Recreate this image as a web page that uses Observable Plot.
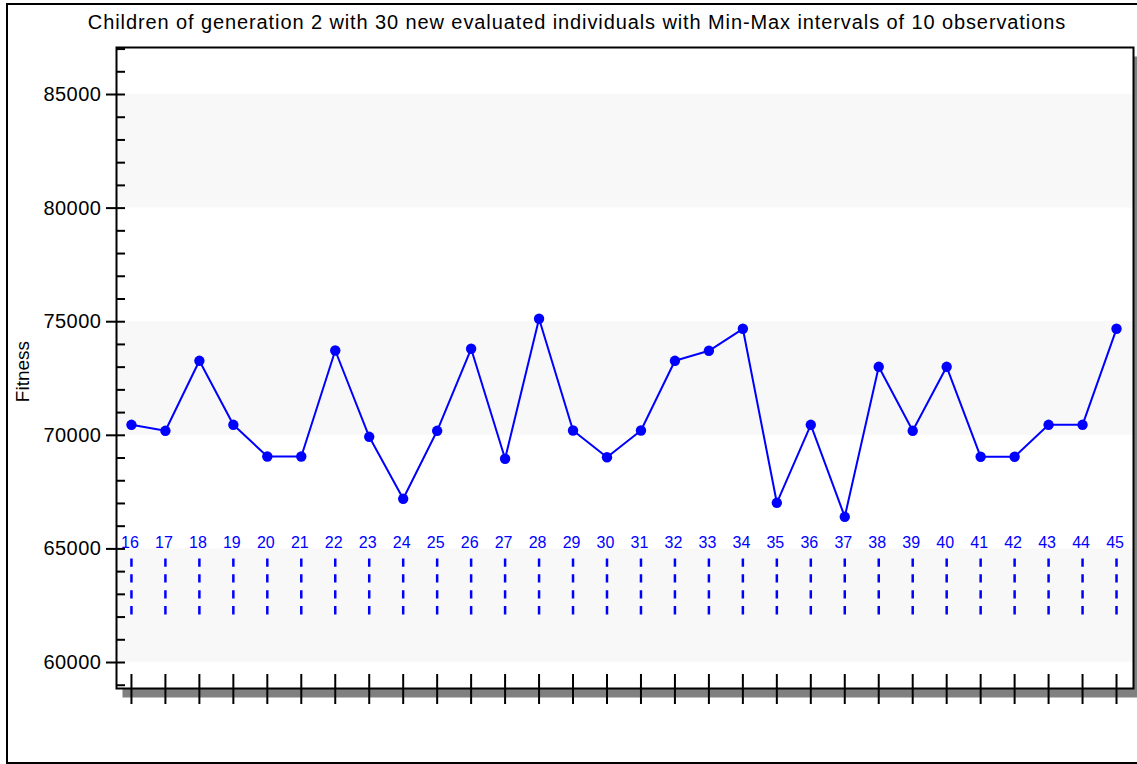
<!DOCTYPE html>
<html>
<head>
<meta charset="utf-8">
<script src="https://cdn.jsdelivr.net/npm/d3@7"></script>
<script src="https://cdn.jsdelivr.net/npm/@observablehq/plot@0.6"></script>
<style>
  html, body { margin: 0; padding: 0; overflow: hidden; background: #fff; }
  #wrap { position: relative; width: 1137px; height: 764px; overflow: hidden; font-family: "Liberation Sans", Arial, sans-serif; }
  #border { position: absolute; left: 6px; top: 3px; width: 1140px; height: 757px; border: 2px solid #000; pointer-events: none; z-index: 3; }
  #title { position: absolute; left: 6px; top: 12px; width: 1142px; text-align: center; font-size: 20px; line-height: 20px; letter-spacing: 0.9px; color: #000; white-space: nowrap; z-index: 2; }
  #chart { position: absolute; left: 0; top: 0; }
  #chart svg [aria-label="y-axis tick label"] text { letter-spacing: 0.5px; }
  #chart svg [aria-label="fitness-label"] text { letter-spacing: 1.2px; }
</style>
</head>
<body>
<div id="wrap">
  <div id="chart"></div>
  <div id="title">Children of generation 2 with 30 new evaluated individuals with Min-Max intervals of 10 observations</div>
  <div id="border"></div>
</div>
<script>
// Individuals (x categories)
const individuals = [16,17,18,19,20,21,22,23,24,25,26,27,28,29,30,31,32,33,34,35,36,37,38,39,40,41,42,43,44,45];
// Fitness of each individual
const fitness = [70462,70198,73279,70462,69067,69067,73733,69934,67205,70198,73808,68966,75128,70211,69036,70211,73279,73720,74688,67029,70462,66413,73015,70198,73015,69054,69054,70462,70462,74688];
// Min-Max interval bounds (dashed markers)
const intervalMax = individuals.map(() => 64560);
const intervalMin = individuals.map(() => 62095);
// Background bands
const bandLow = [60000, 70000, 80000];
const bandHigh = [65000, 75000, 85000];
// Axis ticks
const yMajorTicks = [60000, 65000, 70000, 75000, 80000, 85000];
const yMinorTicks = d3.range(59000, 88000, 1000);
const labelLevel = 65000;
const yDomain = [58856, 87069];
const xDomain = [15.56, 45.5];

const rows = individuals.map((id, i) => ({id, fit: fitness[i], lo: intervalMin[i], hi: intervalMax[i]}));
const bands = bandLow.map((lo, i) => ({lo, hi: bandHigh[i]}));

const chart = Plot.plot({
  width: 1137,
  height: 764,
  marginLeft: 116,
  marginRight: 4,
  marginTop: 47,
  marginBottom: 76,
  style: { background: "transparent", fontFamily: "'Liberation Sans', Arial, sans-serif", color: "#000" },
  x: { domain: xDomain, axis: null },
  y: { domain: yDomain, axis: null },
  marks: [
    Plot.frame({ fill: "#808080", stroke: null, dx: 6, dy: 9 }),
    Plot.frame({ fill: "white", stroke: null }),
    Plot.rect(bands, { y1: "lo", y2: "hi", fill: "#f8f8f8" }),
    Plot.ruleX(rows, { x: "id", y1: "hi", y2: "lo", stroke: "#0000ff", strokeWidth: 2.5, strokeDasharray: "8.3,7.6" }),
    Plot.text(rows, { x: "id", y: () => labelLevel, text: d => String(d.id), fill: "#0000ff", fontSize: 16, lineAnchor: "bottom", dx: -1.5, dy: -1 }),
    Plot.line(rows, { x: "id", y: "fit", stroke: "#0000ff", strokeWidth: 2 }),
    Plot.dot(rows, { x: "id", y: "fit", r: 5.2, fill: "#0000ff", stroke: null }),
    Plot.frame({ stroke: "#000", strokeWidth: 2 }),
    Plot.axisY(yMajorTicks, { tickSize: 10, tickPadding: 5, fontSize: 20, tickFormat: "d", strokeWidth: 2, label: null }),
    Plot.axisY(yMinorTicks, { tickSize: 9, dx: 9, text: null, strokeWidth: 2, label: null }),
    Plot.axisX(individuals, { tickSize: 30, dy: -14, text: null, strokeWidth: 2, label: null }),
    Plot.text(["Fitness"], { ariaLabel: "fitness-label", frameAnchor: "left", textAnchor: "middle", text: d => d, rotate: -90, lineAnchor: "bottom", dx: -88, dy: 3.5, fontSize: 19, fill: "#000" })
  ]
});
document.getElementById("chart").appendChild(chart);
</script>
</body>
</html>
